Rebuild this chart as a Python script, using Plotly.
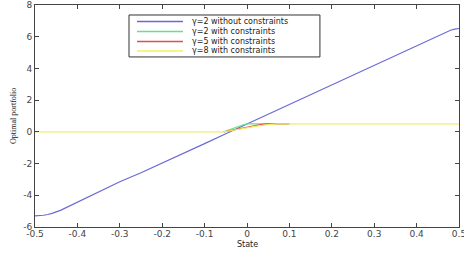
import plotly.graph_objects as go

# ---- data ----
blue_x = [-0.50, -0.49, -0.48, -0.47, -0.46, -0.44, -0.42, -0.40, -0.35, -0.30, -0.25, -0.20, -0.15, -0.10,
          -0.05, 0.00, 0.05, 0.10, 0.15, 0.20, 0.25, 0.30, 0.35, 0.40, 0.43, 0.45, 0.47, 0.48, 0.49, 0.50]
blue_y = [-5.30, -5.29, -5.26, -5.21, -5.14, -4.95, -4.70, -4.42, -3.78, -3.15, -2.58, -1.98, -1.36, -0.74,
          -0.12, 0.50, 1.12, 1.74, 2.36, 2.98, 3.60, 4.22, 4.84, 5.46, 5.84, 6.08, 6.30, 6.41, 6.48, 6.52]

green_x = [-0.055, -0.045, -0.035, -0.025, -0.015, -0.007, 0.0, 0.1]
green_y = [0.0, 0.10, 0.20, 0.30, 0.40, 0.46, 0.50, 0.50]

red_x = [-0.055, -0.04, -0.02, 0.0, 0.02, 0.035, 0.045, 0.1]
red_y = [0.0, 0.08, 0.20, 0.31, 0.41, 0.47, 0.50, 0.50]

yellow_x = [-0.50, -0.055, -0.04, -0.02, 0.0, 0.02, 0.04, 0.055, 0.07, 0.50]
yellow_y = [0.0, 0.0, 0.07, 0.17, 0.26, 0.35, 0.42, 0.47, 0.50, 0.50]

series_names = ["\u03b3=2 without constraints", "\u03b3=2 with constraints",
                "\u03b3=5 with constraints", "\u03b3=8 with constraints"]
series_colors = ["#6a6ad6", "#66e08a", "#e0504a", "#f2f060"]

x_ticks = [-0.5, -0.4, -0.3, -0.2, -0.1, 0, 0.1, 0.2, 0.3, 0.4, 0.5]
x_tick_labels = ["-0.5", "-0.4", "-0.3", "-0.2", "-0.1", "0", "0.1", "0.2", "0.3", "0.4", "0.5"]
y_ticks = [-6, -4, -2, 0, 2, 4, 6, 8]
y_tick_labels = ["-6", "-4", "-2", "0", "2", "4", "6", "8"]

SANS = "DejaVu Sans, Verdana, Arial"

fig = go.Figure()
for xs, ys, name, col in zip([blue_x, green_x, red_x, yellow_x],
                             [blue_y, green_y, red_y, yellow_y],
                             series_names, series_colors):
    fig.add_trace(go.Scatter(x=xs, y=ys, mode="lines", name=name,
                             line=dict(color=col, width=1.2),
                             showlegend=False))

axis_common = dict(showgrid=False, zeroline=False, showline=True, linecolor="#444",
                   linewidth=1, ticks="inside", ticklen=4, tickcolor="#444",
                   mirror="allticks", ticklabeloverflow="allow", automargin=False,
                   tickfont=dict(family=SANS, size=9, color="#444"))

fig.update_xaxes(range=[-0.5, 0.5], tickvals=x_ticks, ticktext=x_tick_labels,
                 ticklabelstandoff=-2, **axis_common)
fig.update_yaxes(range=[-6, 8], tickvals=y_ticks, ticktext=y_tick_labels, **axis_common)

# manual legend (compact, MATLAB-like)
shapes = [dict(type="rect", xref="paper", yref="paper", x0=0.2217, x1=0.672, y0=0.766, y1=0.955,
               line=dict(color="#333", width=1), fillcolor="white", layer="above")]
annotations = []
row_y = [0.9257, 0.8806, 0.8356, 0.7928]
for name, col, ry in zip(series_names, series_colors, row_y):
    shapes.append(dict(type="line", xref="paper", yref="paper", x0=0.2406, x1=0.349, y0=ry, y1=ry,
                       line=dict(color=col, width=1.3), layer="above"))
    annotations.append(dict(x=0.3656, y=ry, xref="paper", yref="paper", text=name, showarrow=False,
                            xanchor="left", yanchor="middle",
                            font=dict(family=SANS, size=8, color="#222")))

annotations.append(dict(x=0.5, y=-0.078, xref="paper", yref="paper", text="State", showarrow=False,
                        xanchor="center", yanchor="middle",
                        font=dict(family=SANS, size=8, color="#222")))
annotations.append(dict(x=-0.052, y=0.5, xref="paper", yref="paper", text="Optimal portfolio",
                        showarrow=False, textangle=-90, xanchor="center", yanchor="middle",
                        font=dict(family="Liberation Serif, Times New Roman", size=8, color="#222")))

fig.update_layout(width=464, height=254, margin=dict(l=35, r=5, t=5, b=27),
                  paper_bgcolor="white", plot_bgcolor="white",
                  shapes=shapes, annotations=annotations)

fig.write_html("out.html", config={"displayModeBar": False},
               post_script="document.body.style.margin='0';document.body.style.overflow='hidden';")
